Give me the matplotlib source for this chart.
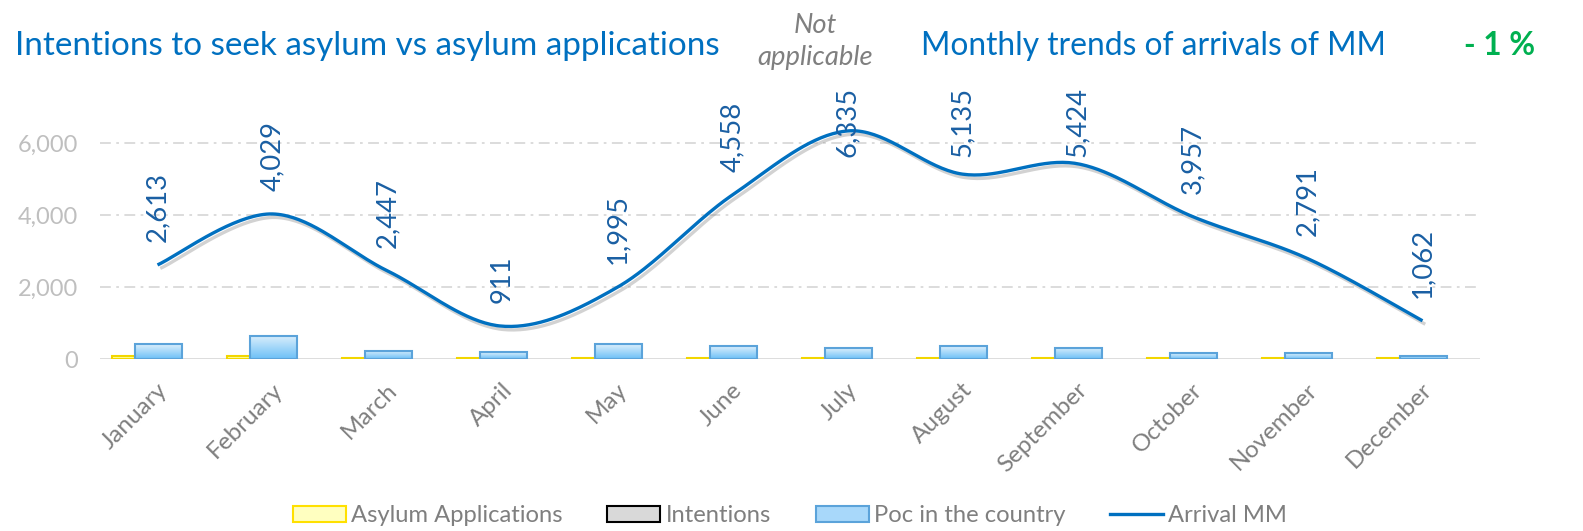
import numpy as np
import matplotlib
matplotlib.use("Agg")
import matplotlib.pyplot as plt
from matplotlib import patheffects as pe
from matplotlib.patches import Rectangle, Patch
from matplotlib.lines import Line2D
from matplotlib.colors import LinearSegmentedColormap
from matplotlib.transforms import ScaledTranslation

plt.rcParams['font.family'] = ['Lato', 'DejaVu Sans']

months = ["January", "February", "March", "April", "May", "June", "July",
          "August", "September", "October", "November", "December"]
arrivals = [2613, 4029, 2447, 911, 1995, 4558, 6335, 5135, 5424, 3957, 2791, 1062]
poc = [410, 650, 230, 185, 415, 350, 300, 350, 315, 165, 165, 90]
asylum = [70, 80, 25, 20, 20, 20, 20, 20, 20, 20, 20, 20]
intentions = [0, 0, 0, 0, 0, 0, 0, 0, 0, 0, 0, 0]
yticks = [0, 2000, 4000, 6000]

W, H = 1583, 531
DPI = 100
fig = plt.figure(figsize=(W / DPI, H / DPI), dpi=DPI)
renderer = fig.canvas.get_renderer()


def fit_size(s, target_px, **kw):
    t = fig.text(0, 0, s, fontsize=10, **kw)
    w = t.get_window_extent(renderer).width
    t.remove()
    return 10 * target_px / w


def fy(py):
    return 1 - py / H


ax = fig.add_axes([100 / W, (H - 359) / H, 1380 / W, (359 - 85) / H])

n = len(months)
x = np.arange(n)
px_per_unit = 0.036
ymax = (359 - 85) / px_per_unit
ax.set_xlim(-0.5, n - 0.5)
ax.set_ylim(0, ymax)

# gridlines
for t in yticks[1:]:
    ax.axhline(t, color='#D9D9D9', lw=1.3, dashes=(6, 3, 1.5, 3), zorder=0)
ax.axhline(0, color='#D9D9D9', lw=2, zorder=1)

# bars
grad = LinearSegmentedColormap.from_list('g', ['#6CC0F7', '#DCEFFC'])
gimg = np.linspace(0, 1, 100).reshape(-1, 1)
poc_w = 0.41
for i, v in enumerate(poc):
    x0 = i - 0.196
    rect = Rectangle((x0, 0), poc_w, v, facecolor='none', edgecolor='#5BA3DA', lw=1.5, zorder=3)
    ax.add_patch(rect)
    im = ax.imshow(gimg, cmap=grad, aspect='auto', extent=(x0, x0 + poc_w, 0, v),
                   origin='lower', zorder=2)
    im.set_clip_path(rect)
ax.bar(x - 0.296, asylum, width=0.2, color='#FFFF99', edgecolor='#F2D600', lw=1.5, zorder=2)

# smoothed line (Excel-like Bezier smoothing)
pts = np.column_stack([x, arrivals]).astype(float)
curve = []
for i in range(n - 1):
    p0 = pts[max(i - 1, 0)]
    p1 = pts[i]
    p2 = pts[i + 1]
    p3 = pts[min(i + 2, n - 1)]
    c1 = p1 + (p2 - p0) / 6
    c2 = p2 - (p3 - p1) / 6
    t = np.linspace(0, 1, 40)[:, None]
    seg = (1 - t) ** 3 * p1 + 3 * (1 - t) ** 2 * t * c1 + 3 * (1 - t) * t ** 2 * c2 + t ** 3 * p2
    curve.append(seg if i == 0 else seg[1:])
curve = np.vstack(curve)
ax.plot(curve[:, 0], curve[:, 1], color='#0070C0', lw=2.4, zorder=5, solid_capstyle='butt',
        path_effects=[pe.SimpleLineShadow(offset=(2, -2.5), shadow_color='#808080', alpha=0.35),
                      pe.Normal()])

# data labels
lab_fs = fit_size("2,613", 70)
labels = []
for i, v in enumerate(arrivals):
    txt = ax.text(i, v + 23 / px_per_unit, f"{v:,}", rotation=90, ha='center', va='bottom',
                  fontsize=lab_fs, color='#1A5FA3', zorder=6)
    labels.append(txt)
fig.canvas.draw()
inv = ax.transData.inverted()
top_limit = (359 - 87) / px_per_unit
for txt in labels:
    bb = txt.get_window_extent(renderer)
    top_data = inv.transform((0, bb.y1))[1]
    if top_data > top_limit:
        txt.set_y(top_limit)
        txt.set_va('top')

# axes styling
for s in ax.spines.values():
    s.set_visible(False)
ytick_fs = fit_size("6,000", 60)
xtick_fs = 17.5
ax.set_yticks(yticks)
ax.set_yticklabels([f"{t:,}" for t in yticks], fontsize=ytick_fs, color='#BFBFBF')
ax.set_xticks(x)
ax.set_xticklabels(months, rotation=45, ha='right', va='top', rotation_mode='anchor',
                   fontsize=xtick_fs, color='#7F7F7F')
ax.tick_params(axis='both', length=0)
ax.tick_params(axis='y', pad=22 * 72 / DPI)
ax.tick_params(axis='x', pad=20 * 72 / DPI)
for lbl in ax.get_xticklabels():
    lbl.set_transform(lbl.get_transform() + ScaledTranslation(-1 / DPI, 0, fig.dpi_scale_trans))

# titles
t1 = "Intentions to seek asylum vs asylum applications"
t2 = "Monthly trends of arrivals of MM"
t1_fs = fit_size(t1, 705)
t2_fs = fit_size(t2, 465)
fig.text(15 / W, fy(55), t1, fontsize=t1_fs, color='#0070C0', ha='left', va='baseline')
fig.text(921 / W, fy(55), t2, fontsize=t2_fs, color='#0070C0', ha='left', va='baseline')
na_fs = fit_size("applicable", 116, style='italic')
fig.text(815 / W, fy(33), "Not", fontsize=na_fs, color='#7F7F7F', style='italic',
         ha='center', va='baseline')
fig.text(815 / W, fy(65), "applicable", fontsize=na_fs, color='#7F7F7F', style='italic',
         ha='center', va='baseline')
pct_fs = fit_size("- 1 %", 71, fontweight='bold')
fig.text(1500 / W, fy(55), "- 1 %", fontsize=pct_fs, color='#00B050',
         fontweight='bold', ha='center', va='baseline')

# legend
leg_fs = fit_size("Asylum Applications", 212)
fpx = leg_fs * DPI / 72
handles = [
    Patch(facecolor='#FFFFC0', edgecolor='#FFE000', lw=1.5, label='Asylum Applications'),
    Patch(facecolor='#D9D9D9', edgecolor='#000000', lw=1.5, label='Intentions'),
    Patch(facecolor='#A8D8FA', edgecolor='#5BA3DA', lw=1.5, label='Poc in the country'),
    Line2D([0], [0], color='#0070C0', lw=2.4, label='Arrival MM'),
]
fig.legend(handles=handles, loc='center', bbox_to_anchor=(790 / W, fy(516)),
           ncol=4, frameon=False, fontsize=leg_fs, labelcolor='#7F7F7F',
           handlelength=53 / fpx, handleheight=15 / fpx, handletextpad=5 / fpx,
           columnspacing=45 / fpx, borderpad=0, borderaxespad=0)

fig.savefig("out.png", dpi=DPI)
